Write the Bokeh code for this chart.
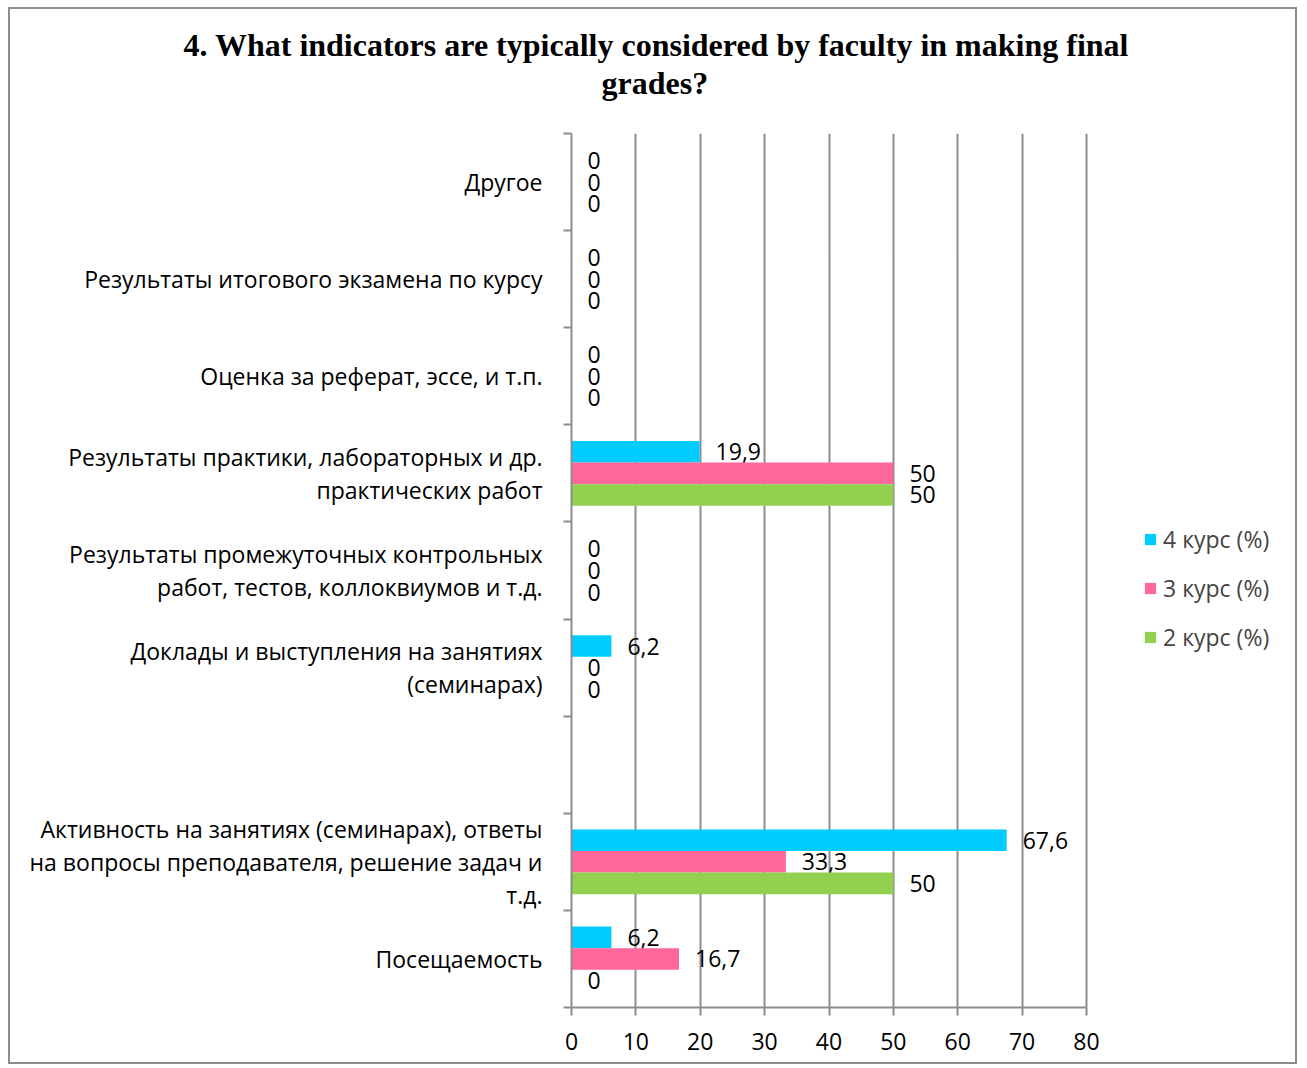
from bokeh.plotting import figure
from bokeh.models import (Legend, LegendItem, FixedTicker, ColumnDataSource, Range1d,
                          LinearAxis, Title)
from bokeh.transform import dodge
from bokeh.embed import file_html
from bokeh.resources import INLINE
from bokeh.core.properties import value

# ---------------- data (bottom to top) ----------------
categories = [
    "Посещаемость",
    "Активность на занятиях (семинарах), ответы\nна вопросы преподавателя, решение задач и\nт.д.",
    "",
    "Доклады и выступления на занятиях\n(семинарах)",
    "Результаты промежуточных контрольных\nработ, тестов, коллоквиумов и т.д.",
    "Результаты практики, лабораторных и др.\nпрактических работ",
    "Оценка за реферат, эссе, и т.п.",
    "Результаты итогового экзамена по курсу",
    "Другое",
]
kurs4 = [6.2, 67.6, None, 6.2, 0, 19.9, 0, 0, 0]
kurs3 = [16.7, 33.3, None, 0, 0, 50, 0, 0, 0]
kurs2 = [0, 50, None, 0, 0, 50, 0, 0, 0]
series_names = ["4 курс (%)", "3 курс (%)", "2 курс (%)"]
series_colors = ["#00CCFF", "#FF6699", "#92D050"]
x_ticks = [0, 10, 20, 30, 40, 50, 60, 70, 80]
x_max = 80
title_line1 = "4. What indicators are typically considered by faculty in making final"
title_line2 = "grades?"

FONT = "Open Sans"
FS = "23px"
GRID = "#8c8c8c"
LW = 2

# layout: plot area 515 px for 0..80; frame extended right to hold the legend
W, H = 1289, 1057
LEFT, TOP, BOTTOM = 561, 124, 59
axis_px = 515
frame_w = W - LEFT
x_end = x_max * frame_w / axis_px

p = figure(width=W, height=H, output_backend="svg", toolbar_location=None,
           x_range=Range1d(0, x_end), y_range=Range1d(0, len(categories)),
           min_border_left=LEFT, min_border_right=0, min_border_top=TOP,
           min_border_bottom=BOTTOM)
p.styles = {"border": "2px solid #8c8c8c", "margin-left": "8px", "margin-top": "7px"}
p.outline_line_color = None
p.background_fill_color = "white"
p.border_fill_color = "white"

# x axis
p.xaxis.ticker = FixedTicker(ticks=x_ticks)
p.xaxis.bounds = (0, x_max)
p.xaxis.major_tick_out = 8
p.xaxis.major_tick_in = 0
p.xaxis.minor_tick_line_color = None
p.xaxis.axis_line_color = GRID
p.xaxis.major_tick_line_color = GRID
p.xaxis.axis_line_width = LW
p.xaxis.major_tick_line_width = LW
p.xaxis.major_label_text_font = FONT
p.xaxis.major_label_text_font_size = FS
p.xaxis.major_label_text_color = "black"
p.xaxis.major_label_standoff = 17

# y axis: boundary ticks only
p.yaxis.ticker = FixedTicker(ticks=list(range(len(categories) + 1)))
p.yaxis.major_label_overrides = {i: "" for i in range(len(categories) + 1)}
p.yaxis.major_tick_out = 8
p.yaxis.major_tick_in = 0
p.yaxis.minor_tick_line_color = None
p.yaxis.axis_line_color = GRID
p.yaxis.major_tick_line_color = GRID
p.yaxis.axis_line_width = LW
p.yaxis.major_tick_line_width = LW
p.yaxis.major_label_standoff = 0

# y axis: category labels at slot centres
cat_pos = [i + 0.5 for i, c in enumerate(categories) if c]
cat_axis = LinearAxis(ticker=FixedTicker(ticks=cat_pos),
                      major_label_overrides={i + 0.5: c for i, c in enumerate(categories) if c},
                      axis_line_color=None, major_tick_line_color=None,
                      minor_tick_line_color=None, major_tick_out=0, major_tick_in=0,
                      major_label_standoff=21, major_label_text_font=FONT,
                      major_label_text_font_size=FS, major_label_text_color="black",
                      major_label_text_line_height=1.04)
p.add_layout(cat_axis, "left")

# invisible spacer between plot area and title (white tick on white)
spacer = LinearAxis(ticker=FixedTicker(ticks=[0]), major_label_overrides={0: ""},
                    axis_line_color=None, major_tick_line_color="white",
                    minor_tick_line_color=None, major_tick_out=33, major_tick_in=0,
                    major_label_standoff=0, major_label_text_font_size="1px")
p.add_layout(spacer, "above")

# title (two lines, positioned relative to the plot-area left edge)
t2 = Title(text=title_line2, align="left", offset=30, text_font="Liberation Serif",
           text_font_style="bold", text_font_size="32px", text_color="black", standoff=0)
t1 = Title(text=title_line1, align="left", offset=-388, text_font="Liberation Serif",
           text_font_style="bold", text_font_size="32px", text_color="black", standoff=0)
p.add_layout(t2, "above")
p.add_layout(t1, "above")

p.xgrid.ticker = FixedTicker(ticks=x_ticks)
p.xgrid.grid_line_color = GRID
p.xgrid.grid_line_width = LW
p.ygrid.grid_line_color = None

# bars
def fmt(v):
    return f"{v:g}".replace(".", ",")

offsets = [0.222, 0.0, -0.222]
items = []
for name, vals, col, off in zip(series_names, [kurs4, kurs3, kurs2], series_colors, offsets):
    pos = [i + 0.5 for i, v in enumerate(vals) if v is not None]
    vv = [v for v in vals if v is not None]
    src = ColumnDataSource(dict(pos=pos, val=vv, lbl=[fmt(v) for v in vv]))
    r = p.hbar(y=dodge("pos", off), left=0, right="val", height=0.222, source=src,
               fill_color=col, line_color=None)
    p.text(x="val", y=dodge("pos", off), text="lbl", source=src, x_offset=16,
           text_align="left", text_baseline="middle", text_font=value(FONT),
           text_font_size=FS, text_color="black")
    items.append(LegendItem(label=name, renderers=[r]))

legend = Legend(items=items, location=(572, 354), orientation="vertical",
                glyph_width=14, glyph_height=14, label_standoff=6, spacing=17,
                label_text_font=FONT, label_text_font_size=FS, label_height=20,
                padding=0, margin=0, border_line_color=None, background_fill_alpha=0)
p.add_layout(legend)

open("out.html", "w").write(file_html(p, INLINE))
